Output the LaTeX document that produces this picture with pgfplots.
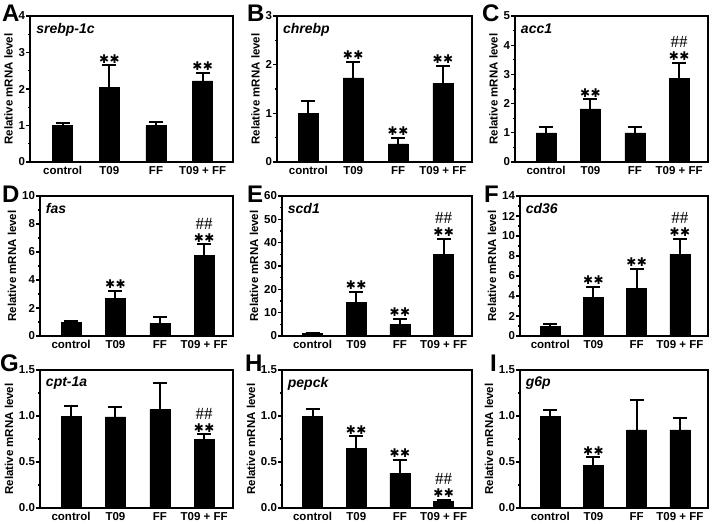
\documentclass[border=0pt]{standalone}
\usepackage{fontspec}
\setmainfont{Liberation Sans}
\newfontfamily\dejavu{DejaVu Sans}
\newfontfamily\timesf{Liberation Serif}
\usepackage{pgfplots}
\pgfplotsset{compat=1.18}
\newcommand\stars{{\dejavu\fontsize{12}{12}\selectfont ✱\kern0.5pt✱}}
\newcommand\hashes{{\timesf\fontsize{17}{17}\selectfont\#\#}}
\pgfplotsset{
  panel/.style={
    scale only axis, anchor=south west, clip=false,
    xmin=0.3, xmax=4.65, ymin=0,
    xtick={1,2,3,4}, xticklabels={control,T09,FF,T09 + FF},
    axis line style={line width=2.2pt},
    major x tick style={draw=none},
    ytick pos=left, tick align=outside,
    major tick length=4pt, minor tick length=2pt, minor y tick num=1,
    y tick style={line width=1.2pt, black},
    ticklabel style={font=\fontsize{11.5}{12}\selectfont\bfseries},
    /pgf/number format/assume math mode=true,
    ylabel={Relative mRNA level},
    ylabel style={font=\fontsize{11.5}{12}\selectfont\bfseries, yshift=-1pt},
    xticklabel style={yshift=3pt},
    yticklabel style={xshift=2.5pt},
  },
  decimal/.style={yticklabel style={/pgf/number format/.cd, fixed, fixed zerofill, precision=1}},
  barplot/.style={ybar, bar width=20pt, fill=black, draw=black,
    error bars/.cd, y dir=plus, y explicit,
    error bar style={line width=2pt, black},
    error mark options={rotate=90, mark size=7pt, line width=2pt, black}},
  starplot/.style={draw=none, mark=none, nodes near coords={\stars},
    every node near coord/.append style={anchor=south, inner sep=0pt, yshift=2pt}},
  hashplot/.style={draw=none, mark=none, nodes near coords={\hashes},
    every node near coord/.append style={anchor=south, inner sep=0pt, yshift=15pt}},
}
\newcommand\gene[1]{\node[anchor=north west, inner sep=0pt, font=\fontsize{14}{14}\selectfont\bfseries\itshape] at (rel axis cs:0.03,0.95) {#1};}
\begin{document}
\begin{tikzpicture}
\useasboundingbox (0,0) rectangle (715pt,523pt);
% Row 1
\begin{axis}[panel, at={(30pt,361pt)}, width=203pt, height=146pt, ymax=4, ytick={0,1,2,3,4}]
\addplot[barplot] coordinates {(1,1.0) +- (0,0.08) (2,2.05) +- (0,0.6) (3,1.0) +- (0,0.1) (4,2.22) +- (0,0.23)};
\addplot[starplot] coordinates {(2,2.65) (4,2.45)};
\gene{srebp-1c}
\end{axis}
\begin{axis}[panel, at={(277pt,361pt)}, width=195pt, height=146pt, ymax=3, ytick={0,1,2,3}]
\addplot[barplot] coordinates {(1,1.0) +- (0,0.25) (2,1.73) +- (0,0.33) (3,0.37) +- (0,0.13) (4,1.62) +- (0,0.36)};
\addplot[starplot] coordinates {(2,2.06) (3,0.5) (4,1.98)};
\gene{chrebp}
\end{axis}
\begin{axis}[panel, at={(515pt,361pt)}, width=193pt, height=146pt, ymax=5, ytick={0,1,2,3,4,5}]
\addplot[barplot] coordinates {(1,1.0) +- (0,0.2) (2,1.82) +- (0,0.33) (3,1.0) +- (0,0.2) (4,2.87) +- (0,0.53)};
\addplot[starplot] coordinates {(2,2.15) (4,3.4)};
\addplot[hashplot] coordinates {(4,3.4)};
\gene{acc1}
\end{axis}
% Row 2
\begin{axis}[panel, at={(40pt,187pt)}, width=193pt, height=140pt, ymax=10, ytick={0,2,4,6,8,10}]
\addplot[barplot] coordinates {(1,1.0) +- (0,0.06) (2,2.7) +- (0,0.55) (3,0.9) +- (0,0.45) (4,5.75) +- (0,0.8)};
\addplot[starplot] coordinates {(2,3.25) (4,6.55)};
\addplot[hashplot] coordinates {(4,6.55)};
\gene{fas}
\end{axis}
\begin{axis}[panel, at={(282pt,187pt)}, width=190pt, height=140pt, ymax=60, ytick={0,10,20,30,40,50,60}]
\addplot[barplot] coordinates {(1,1.0) +- (0,0.3) (2,14.5) +- (0,4.3) (3,5.0) +- (0,2.5) (4,35) +- (0,6.5)};
\addplot[starplot] coordinates {(2,18.8) (3,7.5) (4,41.5)};
\addplot[hashplot] coordinates {(4,41.5)};
\gene{scd1}
\end{axis}
\begin{axis}[panel, at={(520pt,187pt)}, width=188pt, height=140pt, ymax=14, ytick={0,2,4,6,8,10,12,14}]
\addplot[barplot] coordinates {(1,1.0) +- (0,0.25) (2,3.85) +- (0,1.05) (3,4.8) +- (0,1.9) (4,8.2) +- (0,1.5)};
\addplot[starplot] coordinates {(2,4.9) (3,6.7) (4,9.7)};
\addplot[hashplot] coordinates {(4,9.7)};
\gene{cd36}
\end{axis}
% Row 3
\begin{axis}[panel, decimal, at={(40pt,15pt)}, width=193pt, height=138pt, ymax=1.5, ytick={0,0.5,1,1.5}]
\addplot[barplot] coordinates {(1,1.0) +- (0,0.11) (2,0.99) +- (0,0.11) (3,1.07) +- (0,0.29) (4,0.75) +- (0,0.05)};
\addplot[starplot] coordinates {(4,0.80)};
\addplot[hashplot] coordinates {(4,0.80)};
\gene{cpt-1a}
\end{axis}
\begin{axis}[panel, decimal, at={(282pt,15pt)}, width=190pt, height=138pt, ymax=1.5, ytick={0,0.5,1,1.5}]
\addplot[barplot] coordinates {(1,1.0) +- (0,0.08) (2,0.65) +- (0,0.13) (3,0.38) +- (0,0.14) (4,0.07) +- (0,0.02)};
\addplot[starplot] coordinates {(2,0.78) (3,0.52) (4,0.09)};
\addplot[hashplot] coordinates {(4,0.09)};
\gene{pepck}
\end{axis}
\begin{axis}[panel, decimal, at={(520pt,15pt)}, width=188pt, height=138pt, ymax=1.5, ytick={0,0.5,1,1.5}]
\addplot[barplot] coordinates {(1,1.0) +- (0,0.07) (2,0.46) +- (0,0.09) (3,0.85) +- (0,0.32) (4,0.85) +- (0,0.13)};
\addplot[starplot] coordinates {(2,0.55)};
\gene{g6p}
\end{axis}
% Panel letters
\begin{scope}[every node/.style={anchor=base west, inner sep=0pt, font=\fontsize{24}{24}\selectfont\bfseries}]
\node at (2pt,501pt) {A};
\node at (247pt,501pt) {B};
\node at (482pt,501pt) {C};
\node at (2pt,320pt) {D};
\node at (247pt,320pt) {E};
\node at (484pt,320pt) {F};
\node at (0pt,152pt) {G};
\node at (245pt,152pt) {H};
\node at (490pt,152pt) {I};
\end{scope}
\end{tikzpicture}
\end{document}
